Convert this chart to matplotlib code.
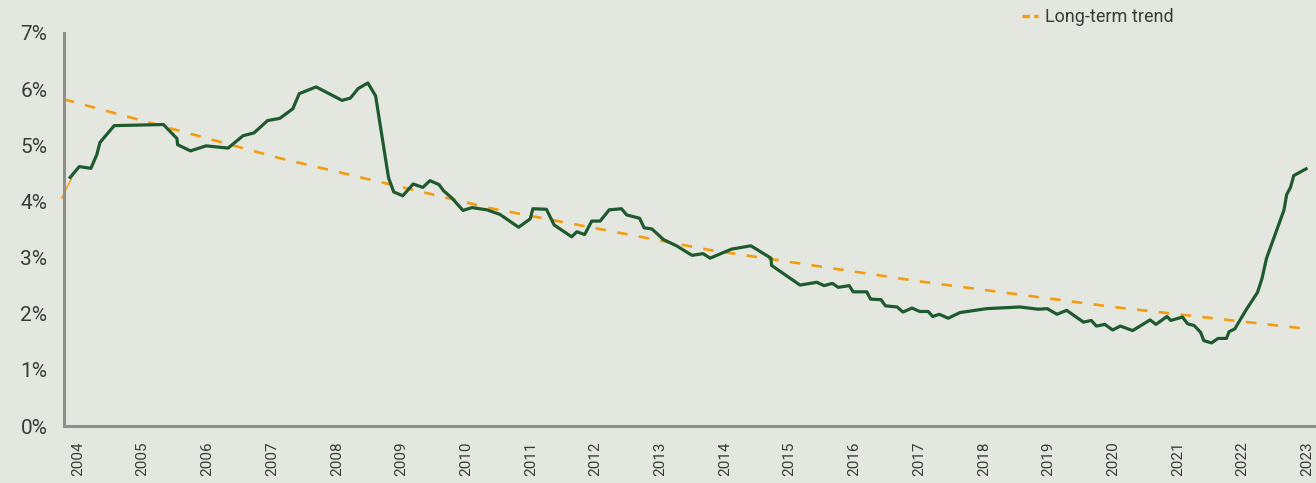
import matplotlib.pyplot as plt
from matplotlib.lines import Line2D

# average mortgage rate (decimal year, %)
years = [2003.88, 2004.02, 2004.20, 2004.29, 2004.34, 2004.56, 2005.32, 2005.53, 2005.54,
         2005.74, 2005.98, 2006.32, 2006.55, 2006.72, 2006.93, 2007.12, 2007.32, 2007.42,
         2007.68, 2008.08, 2008.21, 2008.33, 2008.48, 2008.60, 2008.80, 2008.88, 2009.02,
         2009.18, 2009.33, 2009.44, 2009.58, 2009.65, 2009.78, 2009.95, 2010.09, 2010.32,
         2010.52, 2010.81, 2010.99, 2011.03, 2011.24, 2011.36, 2011.63, 2011.71, 2011.83,
         2011.94, 2012.07, 2012.21, 2012.40, 2012.48, 2012.68, 2012.75, 2012.87, 2013.05,
         2013.25, 2013.49, 2013.66, 2013.77, 2014.10, 2014.40, 2014.71, 2014.72, 2015.16,
         2015.42, 2015.53, 2015.66, 2015.75, 2015.92, 2015.98, 2016.19, 2016.25, 2016.41,
         2016.48, 2016.66, 2016.75, 2016.89, 2017.01, 2017.14, 2017.21, 2017.31, 2017.45,
         2017.63, 2018.04, 2018.56, 2018.84, 2018.98, 2019.13, 2019.28, 2019.54, 2019.66,
         2019.74, 2019.87, 2019.99, 2020.11, 2020.30, 2020.57, 2020.66, 2020.83, 2020.89,
         2021.07, 2021.15, 2021.25, 2021.35, 2021.40, 2021.52, 2021.62, 2021.75, 2021.79,
         2021.88, 2021.93, 2022.06, 2022.23, 2022.30, 2022.37, 2022.64, 2022.68, 2022.74,
         2022.79, 2022.98]
rates = [4.43, 4.62, 4.59, 4.83, 5.05, 5.35, 5.37, 5.12, 5.01,
         4.90, 4.99, 4.95, 5.17, 5.22, 5.44, 5.48, 5.65, 5.92,
         6.04, 5.80, 5.84, 6.01, 6.11, 5.88, 4.42, 4.17, 4.10,
         4.31, 4.25, 4.37, 4.30, 4.19, 4.06, 3.84, 3.89, 3.85,
         3.77, 3.54, 3.69, 3.87, 3.86, 3.58, 3.37, 3.46, 3.41,
         3.65, 3.65, 3.85, 3.87, 3.76, 3.70, 3.53, 3.51, 3.32,
         3.21, 3.04, 3.07, 2.99, 3.15, 3.21, 2.99, 2.86, 2.51,
         2.56, 2.50, 2.54, 2.47, 2.50, 2.39, 2.39, 2.26, 2.25,
         2.14, 2.12, 2.03, 2.10, 2.04, 2.04, 1.95, 1.99, 1.92,
         2.02, 2.09, 2.12, 2.08, 2.09, 1.99, 2.06, 1.85, 1.88,
         1.78, 1.81, 1.71, 1.78, 1.70, 1.89, 1.81, 1.95, 1.88,
         1.94, 1.82, 1.79, 1.67, 1.52, 1.48, 1.56, 1.56, 1.68,
         1.73, 1.83, 2.08, 2.38, 2.63, 2.99, 3.85, 4.12, 4.25,
         4.46, 4.58]

# long-term trend (gently curved)
trend_years = [2003.78, 2007.12, 2010.37, 2013.74, 2016.98, 2020.00, 2022.92]
trend_rates = [5.82, 4.77, 3.88, 3.14, 2.58, 2.12, 1.74]

# short orange stub at the far left
stub_years = [2003.75, 2003.92]
stub_rates = [4.06, 4.46]

tick_years = list(range(2004, 2024))
ytick_vals = list(range(0, 8))

bg = '#e4e7e0'
green = '#1f5a2e'
orange = '#f39c12'
grey_txt = '#3a3a3a'

plt.rcParams['font.family'] = ['Roboto', 'DejaVu Sans']

fig = plt.figure(figsize=(13.16, 4.83), dpi=100, facecolor=bg)
ax = fig.add_axes([64 / 1316, 1 - 426 / 483, 1 - 64 / 1316, (426 - 33) / 483])
ax.set_facecolor(bg)

ax.plot(stub_years, stub_rates, color=orange, lw=1.0, clip_on=False)
ax.plot(trend_years, trend_rates, color=orange, lw=1.9, dashes=(4, 4.3), solid_capstyle='butt')
ax.plot(years, rates, color=green, lw=2.3, solid_joinstyle='round')

ax.set_xlim(2003.784, 2023.134)
ax.set_ylim(0, 7)
ax.set_xticks(tick_years)
ax.set_xticklabels([str(y) for y in tick_years], rotation=90, fontsize=11, color=grey_txt)
ax.set_yticks(ytick_vals)
ax.set_yticklabels(['{}%'.format(v) for v in ytick_vals], fontsize=15, color=grey_txt)
ax.tick_params(axis='x', length=0, pad=11)
ax.tick_params(axis='y', length=0, pad=12)

for side in ['top', 'right']:
    ax.spines[side].set_visible(False)
for side in ['left', 'bottom']:
    ax.spines[side].set_color('#8f8f8f')
    ax.spines[side].set_linewidth(2.2)

proxy = Line2D([], [], color=orange, lw=2.4, dashes=(2.2, 1.3))
ax.legend([proxy], ['Long-term trend'], loc='center left',
          bbox_to_anchor=(1022 / 1316, 1 - 17 / 483), bbox_transform=fig.transFigure,
          frameon=False, handlelength=0.9, handletextpad=0.4, borderpad=0,
          borderaxespad=0, fontsize=13, labelcolor=grey_txt)

fig.savefig('out.png', dpi=100, facecolor=bg)
